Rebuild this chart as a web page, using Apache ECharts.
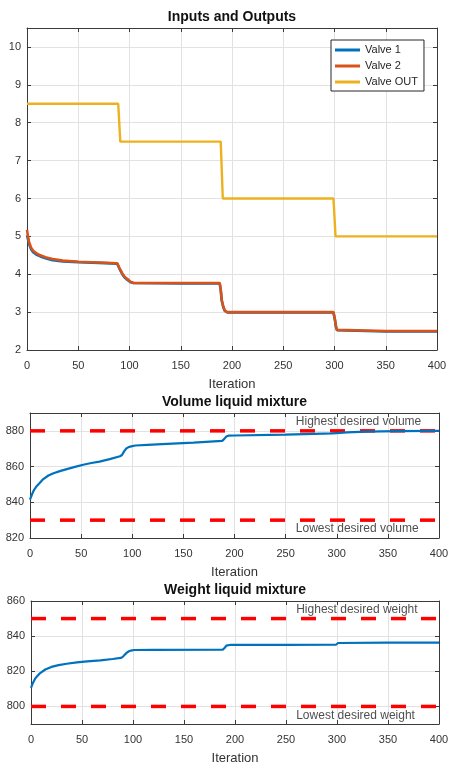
<!DOCTYPE html>
<html><head><meta charset="utf-8">
<script src="https://cdn.jsdelivr.net/npm/echarts@6/dist/echarts.min.js"></script>
<style>html,body{margin:0;padding:0;background:#fff}#c{width:449px;height:766px}</style>
</head><body><div id="c"></div>
<script>
// ---------- data ----------
const titles = ['Inputs and Outputs', 'Volume liquid mixture', 'Weight liquid mixture'];
const xLabel = 'Iteration';
const seriesNames = ['Valve 1', 'Valve 2', 'Valve OUT'];

const iterValves = [0, 1, 2, 4, 6, 9, 13, 18, 25, 35, 50, 70, 88, 89, 91, 93, 95, 97, 99, 101, 104, 150, 188, 189, 190, 191.5, 193, 195.5, 250, 299, 300.5, 301.5, 302.5, 304, 350, 400];
const valve1 = [5.03, 4.92, 4.8, 4.66, 4.58, 4.52, 4.47, 4.42, 4.37, 4.34, 4.32, 4.3, 4.28, 4.26, 4.1, 4.0, 3.92, 3.87, 3.83, 3.79, 3.77, 3.76, 3.76, 3.58, 3.3, 3.13, 3.03, 2.99, 2.99, 2.99, 2.78, 2.6, 2.52, 2.49, 2.49, 2.49];
const valve2 = [5.17, 5.0, 4.85, 4.7, 4.62, 4.56, 4.5, 4.45, 4.4, 4.36, 4.33, 4.31, 4.29, 4.27, 4.12, 4.02, 3.94, 3.89, 3.85, 3.8, 3.77, 3.77, 3.77, 3.6, 3.32, 3.15, 3.04, 3.0, 3.0, 3.0, 2.8, 2.62, 2.53, 2.5, 2.5, 2.5];
const iterOut = [0, 89, 91, 189, 191, 299, 301, 400];
const valveOut = [8.5, 8.5, 7.5, 7.5, 6, 6, 5, 5];

const iterVolume = [0, 2, 4, 6.5, 9, 13, 18, 23, 30, 36, 44, 52, 60, 68, 78, 88, 90, 92, 94, 96, 99, 103, 115, 134, 160, 188, 190, 192, 194, 200, 250, 296, 310, 329, 360, 400];
const volume = [841.5, 844.5, 847, 849, 850.5, 853, 855, 856.3, 857.6, 858.6, 859.8, 861, 862, 862.8, 864.2, 865.8, 866.5, 868.5, 870, 870.8, 871.3, 871.8, 872.2, 872.7, 873.4, 874.4, 875.5, 876.8, 877.3, 877.4, 877.9, 878.6, 879.1, 879.6, 879.9, 880];

const iterWeight = [0, 2, 4, 6, 9, 14, 20, 27, 35, 45, 55, 68, 80, 88, 90, 92, 94, 96, 98, 101, 120, 188, 190, 191.5, 193, 196, 250, 299, 300, 301, 302, 350, 400];
const weight = [810.6, 813.5, 815.8, 817.2, 819, 821, 822.5, 823.5, 824.3, 825.1, 825.6, 826.2, 827, 827.6, 828.2, 829.5, 830.6, 831.4, 831.8, 832.1, 832.2, 832.3, 833.4, 834.6, 835, 835.1, 835, 835.1, 835.6, 836.1, 836.3, 836.3, 836.3];

const volumeLimits = [880, 830];
const weightLimits = [850, 800];
const volumeLimitLabels = ['Highest desired volume', 'Lowest desired volume'];
const weightLimitLabels = ['Highest desired weight', 'Lowest desired weight'];
const volumeLabelAt = [[260, 885], [260, 825]];
const weightLabelAt = [[260, 855], [260, 795]];

const xRange = [0, 400, 50];
const yRange1 = [2, 10.5, 1];
const yRange2 = [820, 890, 20];
const yRange3 = [790, 860, 20];

// ---------- styling ----------
const FONT = 'Liberation Sans, Arial, Helvetica, sans-serif';
const AXC = '#3a3a3a';
const TXT = '#333333';
const GRIDC = '#e2e2e2';
const C1 = '#0072BD', C2 = '#D95319', C3 = '#EDB120', RED = '#FF0000';

const grids = [
  {left: 27, top: 28, width: 410, height: 322},
  {left: 30, top: 413, width: 409, height: 125},
  {left: 31, top: 601, width: 408, height: 123}
].map(g => Object.assign({outerBoundsMode: 'none', containLabel: false, show: false}, g));

function zip(xs, ys) { return xs.map((x, i) => [x, ys[i]]); }

const xAxis = [], yAxis = [];
const yRanges = [yRange1, yRange2, yRange3];
for (let g = 0; g < 3; g++) {
  const tick = {show: true, inside: true, length: 4, lineStyle: {color: AXC, width: 1}};
  const line = {show: true, onZero: false, lineStyle: {color: AXC, width: 1}};
  xAxis.push({
    type: 'value', gridIndex: g, position: 'bottom', min: xRange[0], max: xRange[1], interval: xRange[2],
    axisLine: line, axisTick: tick,
    axisLabel: {color: TXT, fontSize: 11, fontFamily: FONT, margin: 10},
    splitLine: {show: true, lineStyle: {color: GRIDC, width: 1}},
    name: xLabel, nameLocation: 'middle', nameGap: 28, nameMoveOverlap: false,
    nameTextStyle: {color: TXT, fontSize: 13, fontFamily: FONT}
  });
  xAxis.push({
    type: 'value', gridIndex: g, position: 'top', min: xRange[0], max: xRange[1], interval: xRange[2],
    axisLine: line, axisTick: tick, axisLabel: {show: false}, splitLine: {show: false},
    name: titles[g], nameLocation: 'middle', nameGap: 4, nameMoveOverlap: false,
    nameTextStyle: {color: '#111', fontSize: 14, fontWeight: 'bold', fontFamily: FONT}
  });
  const yr = yRanges[g];
  const yBase = {type: 'value', gridIndex: g, min: yr[0], max: yr[1]};
  if (yr[0] % yr[2] === 0) yBase.interval = yr[2];
  else { yBase.splitNumber = 3; yBase.minInterval = yr[2]; yBase.maxInterval = yr[2]; }
  yAxis.push(Object.assign({}, yBase, {
    position: 'left', axisLine: line, axisTick: tick,
    axisLabel: {color: TXT, fontSize: 11, fontFamily: FONT, margin: 6,
      showMaxLabel: yr[1] % yr[2] === 0, showMinLabel: yr[0] % yr[2] === 0},
    splitLine: {show: true, lineStyle: {color: GRIDC, width: 1}}
  }));
  yAxis.push(Object.assign({}, yBase, {
    position: 'right', axisLine: line, axisTick: tick, axisLabel: {show: false}, splitLine: {show: false}
  }));
}

const series = [];
function lineSeries(name, data, color, width, g, extra) {
  return Object.assign({
    name, type: 'line', data, xAxisIndex: 2 * g, yAxisIndex: 2 * g,
    showSymbol: false, symbol: 'none', smooth: false, silent: true,
    lineStyle: {color, width}, itemStyle: {color}
  }, extra || {});
}
series.push(lineSeries(seriesNames[0], zip(iterValves, valve1), C1, 2.6, 0));
series.push(lineSeries(seriesNames[1], zip(iterValves, valve2), C2, 2.6, 0));
series.push(lineSeries(seriesNames[2], zip(iterOut, valveOut), C3, 2.4, 0));

function limitLines(limits, g) {
  limits.forEach(v => {
    series.push(lineSeries('limit', [[xRange[0], v], [xRange[1], v]], RED, 3.5, g,
      {lineStyle: {color: RED, width: 3.5, type: [15, 15], cap: 'butt'}, z: 3}));
  });
}
function annotations(pos, labels, g) {
  series.push({
    type: 'scatter', xAxisIndex: 2 * g, yAxisIndex: 2 * g, symbolSize: 0, silent: true, z: 5,
    data: pos.map((p, i) => ({value: p, name: labels[i]})),
    label: {show: true, position: 'right', distance: 0, formatter: p => p.name,
      color: '#222222', fontSize: 12, fontFamily: FONT}
  });
}
limitLines(volumeLimits, 1);
series.push(lineSeries('Volume', zip(iterVolume, volume), C1, 2.2, 1, {z: 4}));
annotations(volumeLabelAt, volumeLimitLabels, 1);
limitLines(weightLimits, 2);
series.push(lineSeries('Weight', zip(iterWeight, weight), C1, 2.2, 2, {z: 4}));
annotations(weightLabelAt, weightLimitLabels, 2);

const chart = echarts.init(document.getElementById('c'), null, {renderer: 'canvas'});
chart.setOption({
  backgroundColor: '#ffffff',
  animation: false,
  grid: grids,
  xAxis, yAxis,
  legend: {
    data: seriesNames, orient: 'vertical', left: 331, top: 40,
    icon: 'rect', itemWidth: 25, itemHeight: 3, itemGap: 4,
    padding: [4, 6, 3, 4], borderColor: '#262626', borderWidth: 1, backgroundColor: '#ffffff',
    textStyle: {color: '#262626', fontSize: 11, fontFamily: FONT, lineHeight: 12},
    selectedMode: false
  },
  series
});
</script></body></html>
